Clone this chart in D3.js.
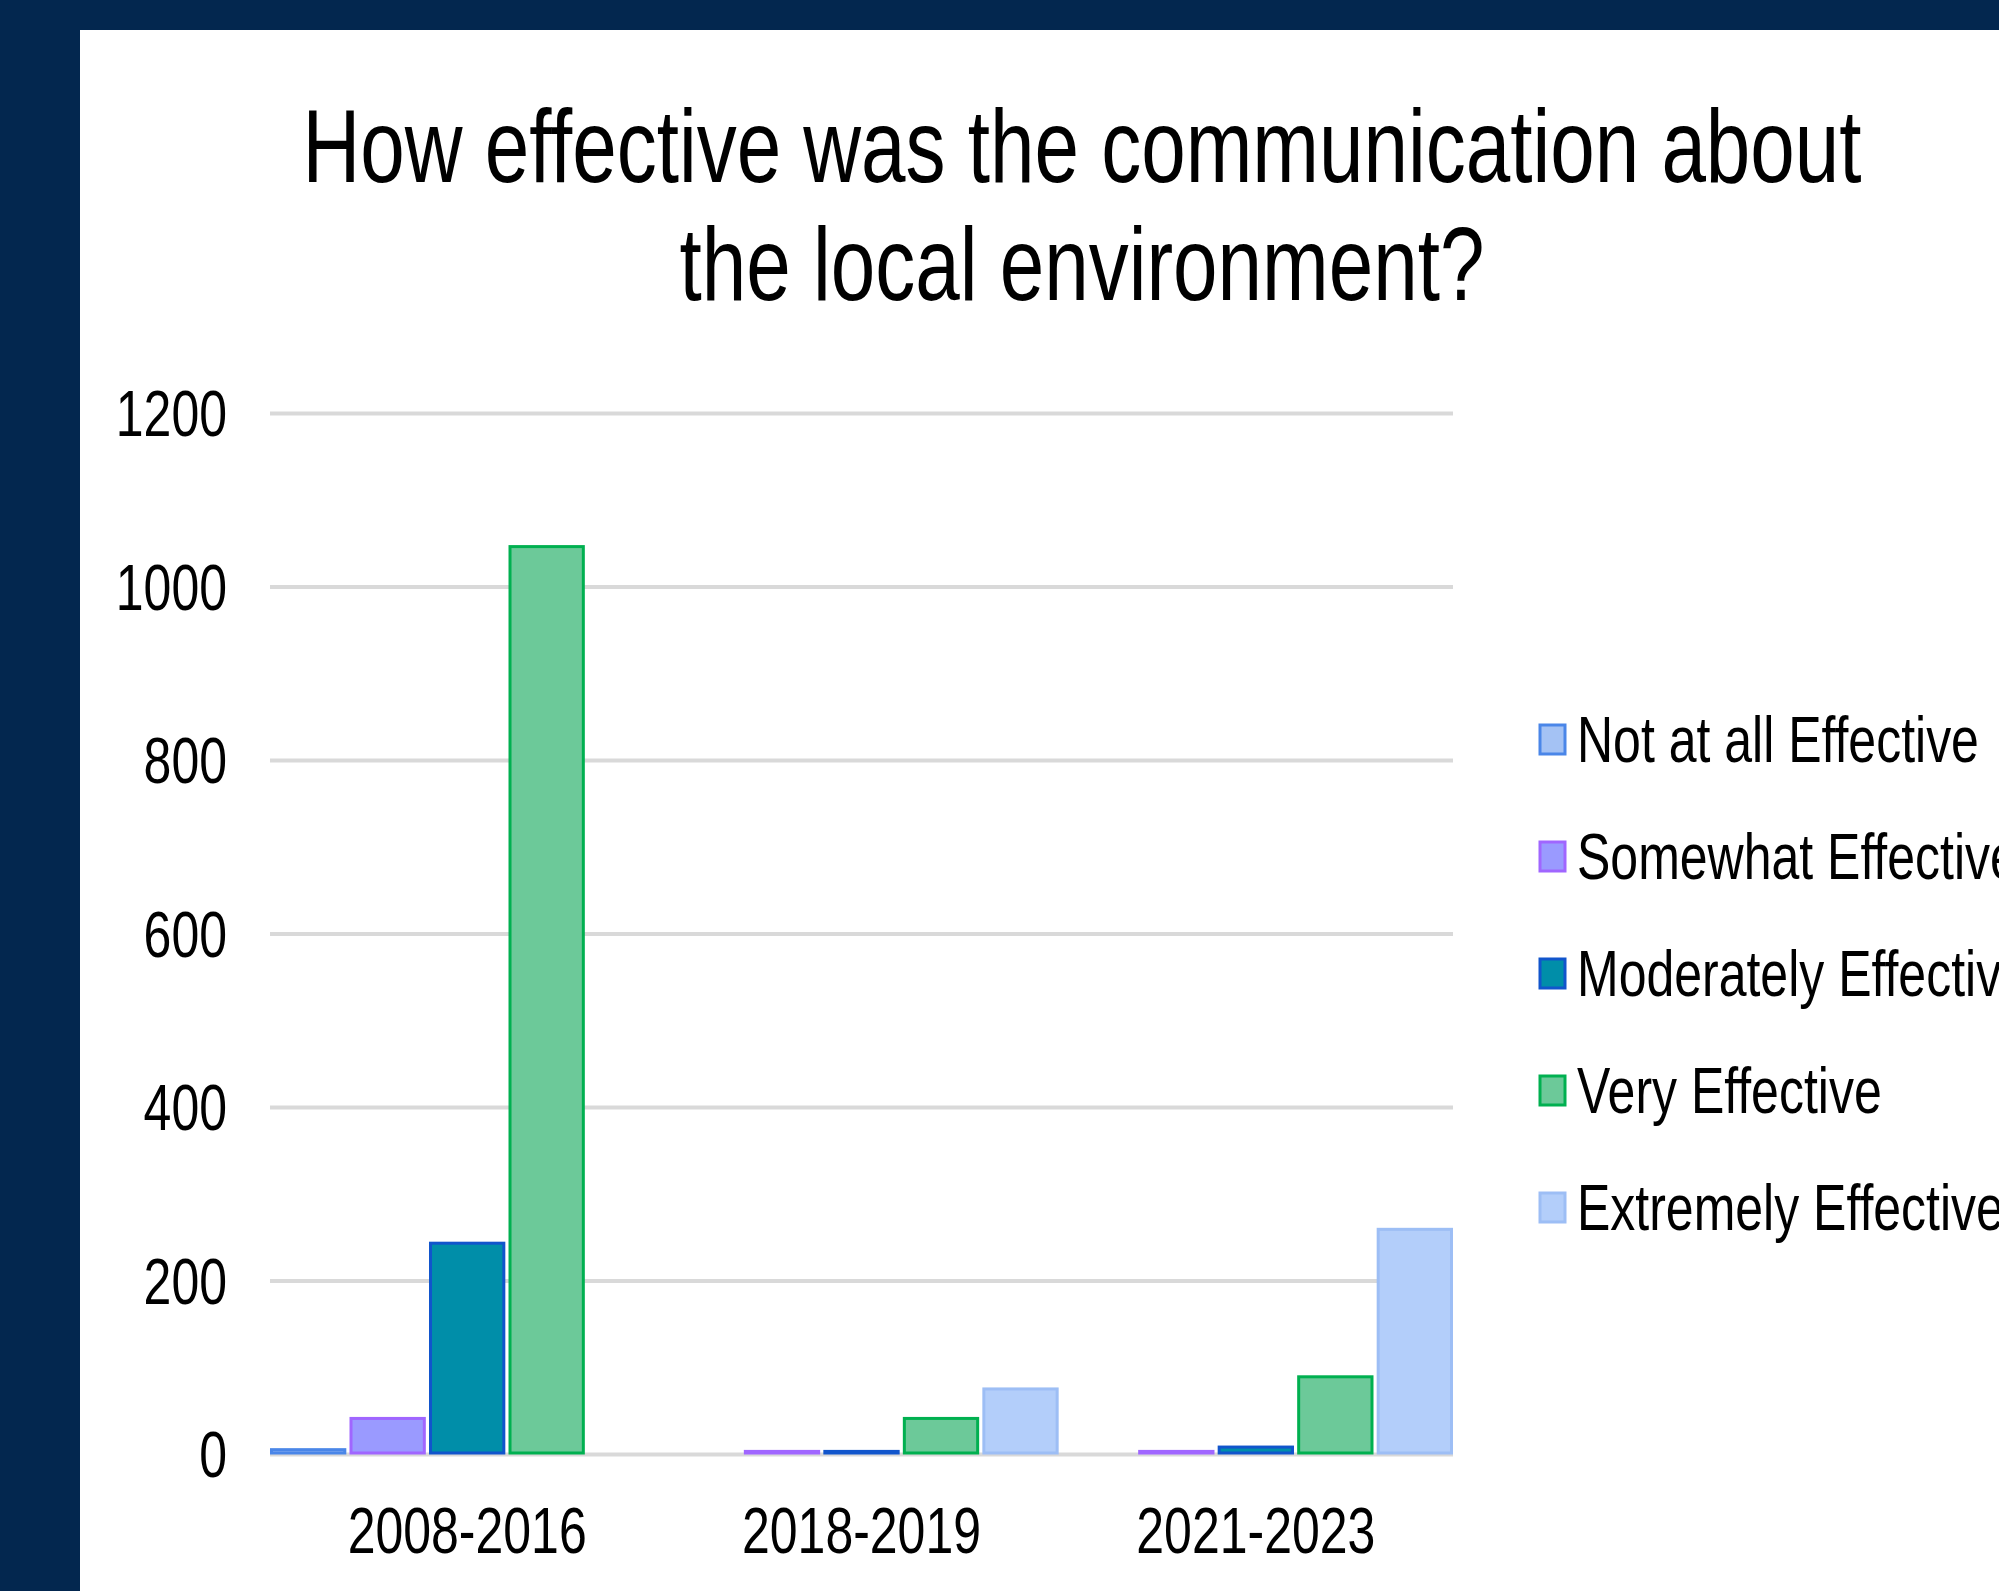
<!DOCTYPE html>
<html lang="en">
<head>
<meta charset="utf-8">
<title>Communication effectiveness</title>
<script src="https://cdn.jsdelivr.net/npm/d3@7/dist/d3.min.js"></script>
<style>
body { margin: 0; background: #03274f; }
text { font-family: "Liberation Sans", Arial, sans-serif; fill: #000; }
.grid line { stroke: #d9d9d9; stroke-width: 4px; }
.grid path { display: none; }
</style>
</head>
<body>
<div id="main"></div>
<script>
// data
var periods = ['2008-2016', '2018-2019', '2021-2023']
var series = ['Not at all Effective', 'Somewhat Effective', 'Moderately Effective', 'Very Effective', 'Extremely Effective']
var notAtAll   = [5, 0, 0]
var somewhat   = [41, 3, 3]
var moderately = [243, 3, 8]
var very       = [1046, 41, 89]
var extremely  = [0, 75, 259]
var yTicks = [0, 200, 400, 600, 800, 1000, 1200]

var fills   = ['#a4c2f4', '#9a9aff', '#008ea9', '#6cc999', '#b3cefa']
var strokes = ['#4a86e8', '#a066ff', '#1155cc', '#00b050', '#9dbef5']
var values = [notAtAll, somewhat, moderately, very, extremely]

var W = 1999, H = 1591
var stretch = 1.3   // the text in the picture is drawn tall and narrow

var svg = d3.select('#main').append('svg').attr('width', W).attr('height', H)

// white panel on the navy page
svg.append('rect').attr('x', 80).attr('y', 30).attr('width', W - 80).attr('height', H - 30).attr('fill', '#fff')

// note: "top" is taken by window.top, so plot edges get their own names
var plotL = 270, plotR = 1453, plotT = 413, plotB = 1454

var x0 = d3.scaleBand().domain(periods).range([plotL, plotR]).paddingInner(0).paddingOuter(0)
var x1 = d3.scaleBand().domain(d3.range(series.length)).range([0, x0.bandwidth()]).paddingInner(0.04)
var y = d3.scaleLinear().domain([0, 1200]).range([plotB, plotT])

// gridlines
svg.append('g').attr('class', 'grid')
  .attr('transform', 'translate(' + plotL + ',0)')
  .call(d3.axisLeft(y).tickValues(yTicks).tickSize(-(plotR - plotL)).tickFormat(''))

// y tick labels
svg.selectAll('text.ytick').data(yTicks).enter().append('text')
  .attr('class', 'ytick')
  .attr('transform', function(d){ return 'translate(227,' + y(d) + ') scale(1,' + stretch + ')' })
  .attr('dy', '0.36em')
  .attr('text-anchor', 'end')
  .style('font-size', '50px')
  .text(function(d){ return d })

// bars
var groups = svg.selectAll('g.period').data(periods).enter().append('g')
  .attr('class', 'period')
  .attr('transform', function(d){ return 'translate(' + x0(d) + ',0)' })

groups.selectAll('rect').data(function(d, i){
    return values.map(function(v, s){ return { s: s, v: v[i] } })
  }).enter().append('rect')
  .filter(function(d){ return d.v > 0 })
  .attr('x', function(d){ return x1(d.s) + 1.5 })
  .attr('width', x1.bandwidth() - 3)
  .attr('y', function(d){ return y(d.v) })
  .attr('height', function(d){ return Math.max(0, plotB - y(d.v) - 1) })
  .attr('fill', function(d){ return fills[d.s] })
  .attr('stroke', function(d){ return strokes[d.s] })
  .attr('stroke-width', 3)

// category labels
svg.selectAll('text.xlab').data(periods).enter().append('text')
  .attr('class', 'xlab')
  .attr('transform', function(d){ return 'translate(' + (x0(d) + x0.bandwidth() / 2) + ',1553) scale(1,' + stretch + ')' })
  .attr('text-anchor', 'middle')
  .style('font-size', '50px')
  .text(function(d){ return d })

// title
var title = ['How effective was the communication about', 'the local environment?']
svg.selectAll('text.title').data(title).enter().append('text')
  .attr('class', 'title')
  .attr('transform', function(d, i){ return 'translate(1082,' + (182 + i * 118) + ') scale(1,' + stretch + ')' })
  .attr('text-anchor', 'middle')
  .style('font-size', '80px')
  .text(function(d){ return d })

// legend
var legend = svg.selectAll('g.leg').data(series).enter().append('g')
  .attr('class', 'leg')
  .attr('transform', function(d, i){ return 'translate(1540,' + (739 + i * 117) + ')' })

legend.append('rect')
  .attr('x', 0).attr('y', -14).attr('width', 25).attr('height', 29)
  .attr('fill', function(d, i){ return fills[i] })
  .attr('stroke', function(d, i){ return strokes[i] })
  .attr('stroke-width', 3)

legend.append('text')
  .attr('transform', 'translate(37,0) scale(1,' + stretch + ')')
  .attr('dy', '0.36em')
  .style('font-size', '50px')
  .text(function(d){ return d })
</script>
</body>
</html>
